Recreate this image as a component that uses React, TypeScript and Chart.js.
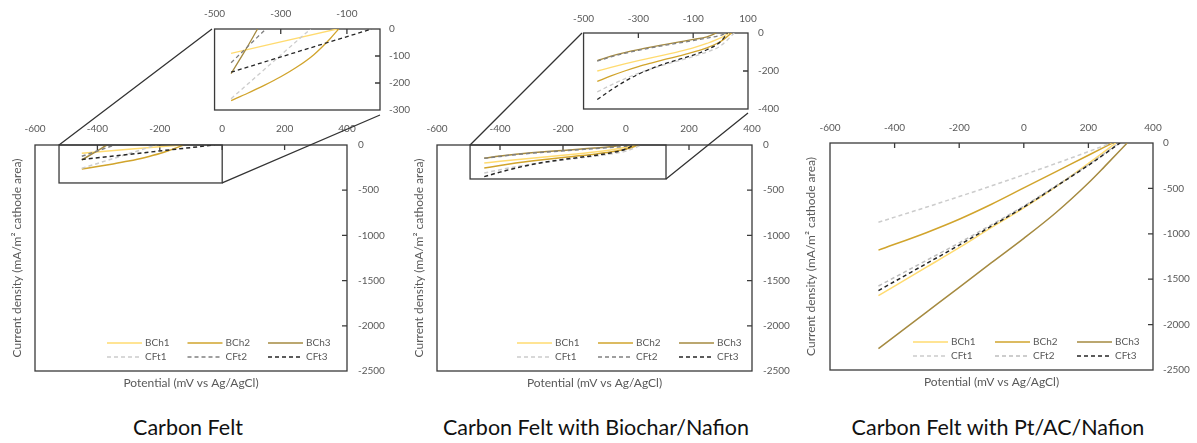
import React, { useEffect, useRef } from 'react';
import { Chart, registerables } from 'chart.js';

Chart.register(...registerables);

// ---------------- text ----------------
const SERIES_NAMES = ['BCh1', 'BCh2', 'BCh3', 'CFt1', 'CFt2', 'CFt3'];
const PANEL_TITLES = ['Carbon Felt', 'Carbon Felt with Biochar/Nafion', 'Carbon Felt with Pt/AC/Nafion'];
const X_TITLE = 'Potential (mV vs Ag/AgCl)';
const Y_TITLE = 'Current density (mA/m² cathode area)';

// ---------------- ticks ----------------
const MAIN_X_TICKS = [-600, -400, -200, 0, 200, 400];
const MAIN_Y_TICKS = [0, -500, -1000, -1500, -2000, -2500];
const INSET1_X_TICKS = [-500, -300, -100];
const INSET1_Y_TICKS = [0, -100, -200, -300];
const INSET2_X_TICKS = [-500, -300, -100, 100];
const INSET2_Y_TICKS = [0, -200, -400];

// ---------------- Carbon Felt ----------------
const CF_BCH1_X = [-450, -130];
const CF_BCH1_Y = [-90, 0];
const CF_BCH2_X = [-450, -400, -350, -300, -250, -200, -150, -125];
const CF_BCH2_Y = [-265, -238, -209, -177, -140, -95, -35, 0];
const CF_BCH3_X = [-450, -410, -370];
const CF_BCH3_Y = [-165, -85, 0];
const CF_CFT1_X = [-450, -210];
const CF_CFT1_Y = [-258, 0];
const CF_CFT2_X = [-450, -345];
const CF_CFT2_Y = [-125, 0];
const CF_CFT3_X = [-450, -25];
const CF_CFT3_Y = [-160, 0];
const CF_ZOOM_X = [-523, 0];
const CF_ZOOM_Y = [-420, 0];

// ---------------- Carbon Felt with Biochar/Nafion ----------------
const BN_BCH1_X = [-450, -400, -350, -300, -250, -200, -150, -100, -50, 0, 30];
const BN_BCH1_Y = [-200, -181, -163, -146, -130, -114, -97, -78, -55, -26, 0];
const BN_BCH2_X = [-450, -400, -350, -300, -250, -200, -150, -100, -50, 0, 40];
const BN_BCH2_Y = [-255, -226, -200, -177, -157, -138, -120, -101, -78, -45, 0];
const BN_BCH3_X = [-450, -400, -350, -300, -250, -200, -150, -100, -50, -15];
const BN_BCH3_Y = [-145, -122, -103, -87, -73, -60, -47, -34, -20, 0];
const BN_CFT1_X = [-450, -400, -350, -300, -250, -200, -150, -100, -50, 0, 50];
const BN_CFT1_Y = [-310, -274, -241, -212, -187, -165, -145, -124, -100, -68, 0];
const BN_CFT2_X = [-450, -400, -350, -300, -250, -200, -150, -100, -50, 0, 20];
const BN_CFT2_Y = [-148, -126, -107, -91, -77, -64, -52, -40, -27, -12, 0];
const BN_CFT3_X = [-450, -400, -350, -300, -250, -200, -150, -100, -50, 0, 25];
const BN_CFT3_Y = [-350, -300, -255, -217, -186, -160, -138, -116, -88, -45, 0];
const BN_ZOOM_X = [-495, 127];
const BN_ZOOM_Y = [-376, 0];

// ---------------- Carbon Felt with Pt/AC/Nafion ----------------
const PA_BCH1_X = [-450, -300, -200, -100, 0, 100, 200, 285];
const PA_BCH1_Y = [-1680, -1365, -1153, -930, -715, -480, -225, 0];
const PA_BCH2_X = [-450, -300, -200, -100, 0, 100, 200, 274];
const PA_BCH2_Y = [-1180, -985, -840, -675, -495, -315, -135, 0];
const PA_BCH3_X = [-450, -400, -300, -200, -100, 0, 100, 200, 250, 300, 320];
const PA_BCH3_Y = [-2265, -2130, -1860, -1590, -1318, -1050, -765, -440, -260, -75, 0];
const PA_CFT1_X = [-450, -300, -200, -100, 0, 100, 200, 270];
const PA_CFT1_Y = [-873, -705, -590, -472, -350, -225, -95, 0];
const PA_CFT2_X = [-450, -300, -200, -100, 0, 100, 200, 295];
const PA_CFT2_Y = [-1575, -1290, -1100, -900, -695, -470, -240, 0];
const PA_CFT3_X = [-450, -300, -200, -100, 0, 100, 200, 298];
const PA_CFT3_Y = [-1625, -1325, -1125, -915, -705, -478, -245, 0];

// ---------------- styles ----------------
const COLORS_AB = ['#FFDB70', '#D1A42C', '#A58A40', '#CCCCCC', '#808080', '#262626'];
const COLORS_C = ['#FFDB70', '#D1A42C', '#A58A40', '#CCCCCC', '#BDBDBD', '#262626'];
const FONT = 'Lato, "Open Sans", "DejaVu Sans", sans-serif';
const TEXT_GRAY = '#595959';
const FRAME = '#3a3a3a';

type Box = { cl: number; ct: number; cw: number; ch: number; pl: number; pr: number; pt: number; pb: number };

const BOX_CF: Box = { cl: 0, ct: 0, cw: 400, ch: 400, pl: 35, pr: 347, pt: 145, pb: 371 };
const BOX_BN: Box = { cl: 400, ct: 0, cw: 400, ch: 400, pl: 437, pr: 752, pt: 145, pb: 371 };
const BOX_PA: Box = { cl: 800, ct: 0, cw: 397, ch: 400, pl: 830, pr: 1153, pt: 143, pb: 370 };
const BOX_CF_IN: Box = { cl: 195, ct: 0, cw: 225, ch: 125, pl: 212, pr: 380, pt: 29, pb: 115 };
const BOX_BN_IN: Box = { cl: 565, ct: 0, cw: 235, ch: 125, pl: 582, pr: 748, pt: 33, pb: 113 };
const TITLE_CENTERS = [188, 596, 998];

type Series = [number[], number[]];

const CF_SERIES: Series[] = [
  [CF_BCH1_X, CF_BCH1_Y], [CF_BCH2_X, CF_BCH2_Y], [CF_BCH3_X, CF_BCH3_Y],
  [CF_CFT1_X, CF_CFT1_Y], [CF_CFT2_X, CF_CFT2_Y], [CF_CFT3_X, CF_CFT3_Y],
];
const BN_SERIES: Series[] = [
  [BN_BCH1_X, BN_BCH1_Y], [BN_BCH2_X, BN_BCH2_Y], [BN_BCH3_X, BN_BCH3_Y],
  [BN_CFT1_X, BN_CFT1_Y], [BN_CFT2_X, BN_CFT2_Y], [BN_CFT3_X, BN_CFT3_Y],
];
const PA_SERIES: Series[] = [
  [PA_BCH1_X, PA_BCH1_Y], [PA_BCH2_X, PA_BCH2_Y], [PA_BCH3_X, PA_BCH3_Y],
  [PA_CFT1_X, PA_CFT1_Y], [PA_CFT2_X, PA_CFT2_Y], [PA_CFT3_X, PA_CFT3_Y],
];

function makeDatasets(series: Series[], colors: string[], width: number) {
  return series.map(([xs, ys], i) => ({
    label: SERIES_NAMES[i],
    data: xs.map((x, j) => ({ x, y: ys[j] })),
    borderColor: colors[i],
    backgroundColor: colors[i],
    borderWidth: width,
    borderDash: i >= 3 ? [4, 3] : [],
    pointRadius: 0,
    pointHoverRadius: 0,
    fill: false,
    cubicInterpolationMode: 'monotone',
    order: series.length - i,
    xAxisID: 'x',
    yAxisID: 'y',
  }));
}

function valueAxis(position: string, axis: string, min: number, max: number, values: number[], fit: (s: any) => void, padding: number) {
  return {
    type: 'linear',
    axis,
    position,
    min,
    max,
    afterBuildTicks: (s: any) => {
      s.ticks = values.map((v) => ({ value: v }));
    },
    afterFit: fit,
    grid: { display: false, drawTicks: false },
    border: { display: false },
    ticks: {
      font: { family: FONT, size: 10 },
      color: TEXT_GRAY,
      padding,
      autoSkip: false,
      maxRotation: 0,
      minRotation: 0,
      callback: (v: any) => String(v),
    },
  };
}

function titleAxis(position: string, axis: string, text: string, fit: (s: any) => void, padding: any) {
  return {
    type: 'linear',
    axis,
    position,
    min: 0,
    max: 1,
    afterFit: fit,
    grid: { display: false, drawTicks: false },
    border: { display: false },
    ticks: { display: false },
    title: { display: true, text, color: TEXT_GRAY, font: { family: FONT, size: 12 }, padding },
  };
}

const framePlugin = {
  id: 'frameTicks',
  beforeDatasetsDraw(chart: any) {
    const { ctx, chartArea: a } = chart;
    const xs = chart.scales.x;
    const ys = chart.scales.y;
    ctx.save();
    ctx.setLineDash([]);
    ctx.strokeStyle = FRAME;
    ctx.lineWidth = 1.3;
    ctx.strokeRect(a.left, a.top, a.right - a.left, a.bottom - a.top);
    ctx.beginPath();
    for (const t of xs.ticks) {
      const p = xs.getPixelForValue(t.value);
      if (p > a.left + 2 && p < a.right - 2) {
        ctx.moveTo(p, a.top);
        ctx.lineTo(p, a.top + 5);
      }
    }
    for (const t of ys.ticks) {
      const p = ys.getPixelForValue(t.value);
      if (p > a.top + 2 && p < a.bottom - 2) {
        ctx.moveTo(a.right, p);
        ctx.lineTo(a.right - 5, p);
      }
    }
    ctx.stroke();
    ctx.restore();
  },
};

function legendPlugin(offset: number, step: number) {
  return {
    id: 'innerLegend',
    afterDraw(chart: any) {
      const { ctx, chartArea: a } = chart;
      ctx.save();
      ctx.font = `10px ${FONT}`;
      ctx.textBaseline = 'middle';
      ctx.textAlign = 'left';
      chart.data.datasets.forEach((ds: any, i: number) => {
        const col = i % 3;
        const row = Math.floor(i / 3);
        const x = a.left + offset + col * step;
        const y = a.bottom - 28 + row * 14;
        ctx.strokeStyle = ds.borderColor;
        ctx.lineWidth = 1.6;
        ctx.setLineDash(ds.borderDash);
        ctx.beginPath();
        ctx.moveTo(x, y);
        ctx.lineTo(x + 35, y);
        ctx.stroke();
        ctx.fillStyle = TEXT_GRAY;
        ctx.fillText(ds.label, x + 38, y);
      });
      ctx.restore();
    },
  };
}

function zoomPlugin(zx: number[], zy: number[], box: Box, inset: Box) {
  return {
    id: 'zoomBox',
    afterDraw(chart: any) {
      const { ctx } = chart;
      const xs = chart.scales.x;
      const ys = chart.scales.y;
      const x0 = xs.getPixelForValue(zx[0]);
      const x1 = xs.getPixelForValue(zx[1]);
      const y0 = ys.getPixelForValue(zy[1]);
      const y1 = ys.getPixelForValue(zy[0]);
      ctx.save();
      ctx.setLineDash([]);
      ctx.strokeStyle = FRAME;
      ctx.lineWidth = 1.3;
      ctx.strokeRect(x0, y0, x1 - x0, y1 - y0);
      ctx.strokeStyle = '#333333';
      ctx.beginPath();
      ctx.moveTo(x0, y0);
      ctx.lineTo(inset.pl - box.cl, inset.pt - box.ct);
      ctx.moveTo(x1, y1);
      ctx.lineTo(inset.pr - box.cl, inset.pb - box.ct);
      ctx.stroke();
      ctx.restore();
    },
  };
}

const BOTTOM_H = 19;

function mainConfig(box: Box, series: Series[], colors: string[], opts: any, extra: any[]) {
  return {
    type: 'line',
    data: { datasets: makeDatasets(series, colors, 1.5) },
    options: {
      responsive: false,
      animation: false,
      devicePixelRatio: 1,
      events: [],
      layout: { padding: { left: 0, top: 0, right: 0, bottom: box.ch - (box.pb - box.ct) - BOTTOM_H } },
      plugins: { legend: { display: false }, tooltip: { enabled: false }, title: { display: false } },
      scales: {
        x: valueAxis('top', 'x', -600, 400, MAIN_X_TICKS, (s: any) => { s.height = box.pt - box.ct; }, opts.xPad),
        y: valueAxis('right', 'y', -2500, 0, MAIN_Y_TICKS, (s: any) => { s.width = box.cl + box.cw - box.pr; }, opts.yPad),
        xt: titleAxis('bottom', 'x', X_TITLE, (s: any) => { s.height = BOTTOM_H; }, { top: 0, bottom: 0 }),
        yt: titleAxis('left', 'y', Y_TITLE, (s: any) => { s.width = box.pl - box.cl; }, { top: opts.yTitleX - box.cl - 7.2, bottom: 0 }),
      },
    },
    plugins: [framePlugin, legendPlugin(opts.legendLeft, opts.legendStep), ...extra],
  };
}

function insetConfig(box: Box, series: Series[], colors: string[], xr: number[], yr: number[], xt: number[], yt: number[], xPad: number, yPad: number) {
  return {
    type: 'line',
    data: { datasets: makeDatasets(series, colors, 1.3) },
    options: {
      responsive: false,
      animation: false,
      devicePixelRatio: 1,
      events: [],
      layout: { padding: { left: box.pl - box.cl, top: 0, right: 0, bottom: box.ch - (box.pb - box.ct) } },
      plugins: { legend: { display: false }, tooltip: { enabled: false }, title: { display: false } },
      scales: {
        x: valueAxis('top', 'x', xr[0], xr[1], xt, (s: any) => { s.height = box.pt - box.ct; }, xPad),
        y: valueAxis('right', 'y', yr[0], yr[1], yt, (s: any) => { s.width = box.cl + box.cw - box.pr; }, yPad),
      },
    },
    plugins: [framePlugin],
  };
}

function ChartBox({ box, make }: { box: Box; make: () => any }) {
  const ref = useRef<HTMLCanvasElement>(null);
  useEffect(() => {
    const chart = new Chart(ref.current as HTMLCanvasElement, make());
    return () => chart.destroy();
  }, []);
  return (
    <canvas
      ref={ref}
      width={box.cw}
      height={box.ch}
      style={{ position: 'absolute', left: box.cl, top: box.ct, width: box.cw, height: box.ch }}
    />
  );
}

export default function App() {
  return (
    <div style={{ position: 'absolute', left: 0, top: 0, width: 1197, height: 443, background: '#ffffff', overflow: 'hidden' }}>
      <ChartBox
        box={BOX_CF}
        make={() => mainConfig(BOX_CF, CF_SERIES, COLORS_AB, { xPad: 10, yPad: 11, yTitleX: 17, legendLeft: 72, legendStep: 80.5 }, [zoomPlugin(CF_ZOOM_X, CF_ZOOM_Y, BOX_CF, BOX_CF_IN)])}
      />
      <ChartBox
        box={BOX_CF_IN}
        make={() => insetConfig(BOX_CF_IN, CF_SERIES, COLORS_AB, [-500, 0], [-300, 0], INSET1_X_TICKS, INSET1_Y_TICKS, 9, 9)}
      />
      <ChartBox
        box={BOX_BN}
        make={() => mainConfig(BOX_BN, BN_SERIES, COLORS_AB, { xPad: 10, yPad: 11, yTitleX: 419, legendLeft: 80, legendStep: 81 }, [zoomPlugin(BN_ZOOM_X, BN_ZOOM_Y, BOX_BN, BOX_BN_IN)])}
      />
      <ChartBox
        box={BOX_BN_IN}
        make={() => insetConfig(BOX_BN_IN, BN_SERIES, COLORS_AB, [-500, 100], [-400, 0], INSET2_X_TICKS, INSET2_Y_TICKS, 8, 10)}
      />
      <ChartBox
        box={BOX_PA}
        make={() => mainConfig(BOX_PA, PA_SERIES, COLORS_C, { xPad: 9, yPad: 10, yTitleX: 811, legendLeft: 83, legendStep: 82 }, [])}
      />
      {PANEL_TITLES.map((t, i) => (
        <div
          key={t}
          style={{
            position: 'absolute',
            left: TITLE_CENTERS[i] - 250,
            width: 500,
            top: 413,
            textAlign: 'center',
            fontFamily: FONT,
            fontSize: 21.5,
            lineHeight: '28px',
            color: '#111111',
          }}
        >
          {t}
        </div>
      ))}
    </div>
  );
}
